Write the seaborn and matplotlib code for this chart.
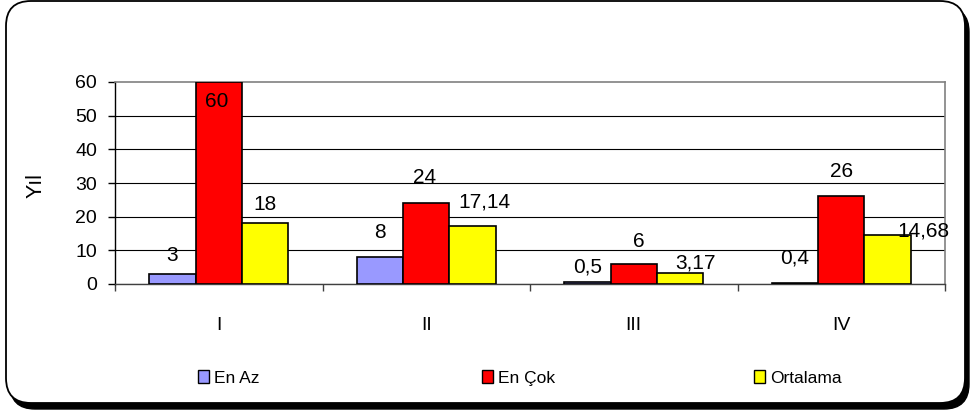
import matplotlib
matplotlib.use("Agg")
import matplotlib.pyplot as plt
from matplotlib.patches import FancyBboxPatch, Patch
from matplotlib.transforms import IdentityTransform
from matplotlib.ticker import FixedLocator
import seaborn as sns
import pandas as pd

# Data
categories = ["I", "II", "III", "IV"]
series = ["En Az", "En Çok", "Ortalama"]
en_az = [3, 8, 0.5, 0.4]
en_cok = [60, 24, 6, 26]
ortalama = [18, 17.14, 3.17, 14.68]
y_label = "Yıl"

# Styling
colors = ["#9999FF", "#FF0000", "#FFFF00"]
# label offsets (dx, dy) in pixels from the top centre of each bar
label_offsets = {
    "En Az": [(0, 13), (0, 19), (0, 10), (0, 19)],
    "En Çok": [(-2, -25), (-2, 20), (5, 17), (0, 19)],
    "Ortalama": [(0, 13), (12, 19), (15, 5), (36, -2)],
}

sns.set_theme(style="white")
plt.rcParams["font.family"] = ["Liberation Sans", "DejaVu Sans"]
plt.rcParams["text.color"] = "black"

df = pd.DataFrame({
    "kategori": categories * 3,
    "seri": [s for s in series for _ in categories],
    "deger": en_az + en_cok + ortalama,
})

W, H = 971, 413
fig = plt.figure(figsize=(W / 100, H / 100), dpi=100)
fig.patch.set_facecolor("white")

# rounded frame with drop shadow (pixel coordinates)
fx0, fx1, fy_top, fy_bot = 6, 965, 1, 403
shadow = FancyBboxPatch((fx0 + 4, H - fy_bot - 6), fx1 - fx0, fy_bot - fy_top,
                        boxstyle="round,pad=0,rounding_size=25",
                        transform=IdentityTransform(), facecolor="black",
                        edgecolor="black", linewidth=1, zorder=-3)
frame = FancyBboxPatch((fx0, H - fy_bot), fx1 - fx0, fy_bot - fy_top,
                       boxstyle="round,pad=0,rounding_size=25",
                       transform=IdentityTransform(), facecolor="white",
                       edgecolor="black", linewidth=1.3, zorder=-2)
fig.patches.extend([shadow, frame])

ax_l, ax_r, ax_t, ax_b = 115, 945, 82, 284
ax = fig.add_axes([ax_l / W, 1 - ax_b / H, (ax_r - ax_l) / W, (ax_b - ax_t) / H])
ax.patch.set_alpha(0)

sns.barplot(data=df, x="kategori", y="deger", hue="seri", order=categories,
            hue_order=series, palette=colors, width=0.67, saturation=1,
            edgecolor="black", linewidth=1.2, legend=False, ax=ax, zorder=3)

ax.set_ylim(0, 60)
ax.set_xlim(-0.5, 3.5)
ax.set_yticks(range(0, 61, 10))
ax.yaxis.grid(True, color="black", linewidth=0.8)
ax.get_ygridlines()[-1].set_visible(False)
ax.xaxis.grid(False)
ax.set_axisbelow(True)

for side in ["top", "right"]:
    ax.spines[side].set_color("#808080")
    ax.spines[side].set_linewidth(1.2)
ax.spines["left"].set_color("black")
ax.spines["bottom"].set_color("#404040")
for side in ["left", "bottom"]:
    ax.spines[side].set_linewidth(1.0)

ax.tick_params(axis="y", which="major", left=True, length=5, width=1,
               color="black", pad=8, labelsize=14, labelcolor="black")
ax.tick_params(axis="x", which="major", bottom=False, length=0, pad=24,
               labelsize=14, labelcolor="black")
ax.xaxis.set_minor_locator(FixedLocator([-0.5, 0.5, 1.5, 2.5, 3.5]))
ax.tick_params(axis="x", which="minor", bottom=True, length=5, width=1,
               color="#404040")

ax.set_xlabel("")
ax.set_ylabel(y_label, fontsize=15.5, color="black")
ax.yaxis.set_label_coords(-0.083, 0.49)

# value labels
for s, container in zip(series, ax.containers):
    for bar, (dx, dy) in zip(container, label_offsets[s]):
        val = bar.get_height()
        txt = f"{val:g}".replace(".", ",")
        ax.annotate(txt, xy=(bar.get_x() + bar.get_width() / 2, val),
                    xytext=(dx * 0.72, dy * 0.72), textcoords="offset points",
                    ha="center", va="baseline", fontsize=15, color="black",
                    zorder=5, annotation_clip=False)

# legend entries spread across the bottom
legend_x = [198, 482, 754]
for s, c, lx in zip(series, colors, legend_x):
    fig.legend(handles=[Patch(facecolor=c, edgecolor="black", linewidth=1)],
               labels=[s], loc="center left",
               bbox_to_anchor=(lx / W, 1 - 378 / H), frameon=False,
               handlelength=0.65, handleheight=0.7, handletextpad=0.25,
               borderpad=0, borderaxespad=0, fontsize=12.5, labelcolor="black")

fig.savefig("out.png", dpi=100, facecolor="white")
